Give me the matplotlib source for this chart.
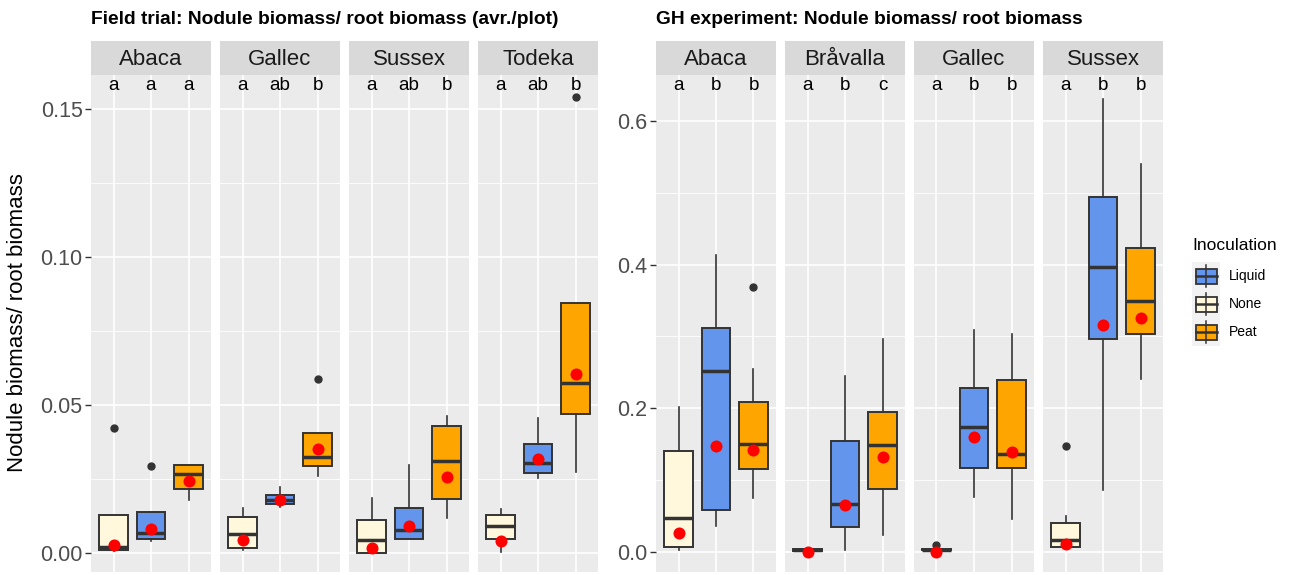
import matplotlib
matplotlib.use("Agg")
import matplotlib.pyplot as plt
from matplotlib.patches import Rectangle

plt.rcParams['font.family'] = ['Liberation Sans', 'DejaVu Sans']

# ---------------- data ----------------
treatments = ["None", "Liquid", "Peat"]
fill_cols = {"None": "#FFF8DC", "Liquid": "#6495ED", "Peat": "#FFA500"}

# Field trial (avr./plot), per facet: [None, Liquid, Peat]
field_facets = ["Abaca", "Gallec", "Sussex", "Todeka"]
field_letters = [["a", "a", "a"], ["a", "ab", "b"], ["a", "ab", "b"], ["a", "ab", "b"]]
field_q1 = [[0.0009, 0.0048, 0.0218], [0.0017, 0.0165, 0.0294], [0.0000, 0.0049, 0.0181], [0.0049, 0.0272, 0.0469]]
field_med = [[0.0019, 0.0068, 0.0267], [0.0066, 0.0179, 0.0325], [0.0044, 0.0079, 0.0310], [0.0090, 0.0305, 0.0574]]
field_q3 = [[0.0128, 0.0138, 0.0299], [0.0123, 0.0195, 0.0404], [0.0112, 0.0152, 0.0430], [0.0128, 0.0367, 0.0844]]
field_lo = [[0.0008, 0.0040, 0.0178], [0.0011, 0.0156, 0.0260], [0.0000, 0.0049, 0.0118], [0.0002, 0.0252, 0.0274]]
field_hi = [[0.0128, 0.0138, 0.0299], [0.0153, 0.0224, 0.0404], [0.0187, 0.0299, 0.0464], [0.0149, 0.0455, 0.0844]]
field_out = [[[0.0424], [0.0293], []], [[], [], [0.0588]], [[], [], []], [[], [], [0.154]]]
field_mean = [[0.0028, 0.0081, 0.0243], [0.0043, 0.0180, 0.0353], [0.0016, 0.0090, 0.0258], [0.0040, 0.0319, 0.0606]]

# GH experiment
gh_facets = ["Abaca", "Bråvalla", "Gallec", "Sussex"]
gh_letters = [["a", "b", "b"], ["a", "b", "c"], ["a", "b", "b"], ["a", "b", "b"]]
gh_q1 = [[0.0074, 0.0587, 0.1150], [0.0010, 0.0342, 0.0882], [0.0020, 0.1173, 0.1173], [0.0069, 0.2960, 0.3030]]
gh_med = [[0.0466, 0.2517, 0.1506], [0.0030, 0.0665, 0.1483], [0.0030, 0.1741, 0.1367], [0.0171, 0.3972, 0.3492]]
gh_q3 = [[0.1400, 0.3118, 0.2083], [0.0040, 0.1543, 0.1954], [0.0040, 0.2282, 0.2388], [0.0406, 0.4938, 0.4231]]
gh_lo = [[0.0028, 0.0360, 0.0744], [0.0000, 0.0028, 0.0231], [0.0000, 0.0771, 0.0462], [0.0069, 0.0859, 0.2406]]
gh_hi = [[0.2014, 0.4139, 0.2545], [0.0050, 0.2448, 0.2970], [0.0050, 0.3095, 0.3030], [0.0499, 0.6305, 0.5395]]
gh_out = [[[], [], [0.369]], [[], [], []], [[0.0102], [], []], [[0.1469], [], []]]
gh_mean = [[0.0259, 0.1478, 0.1418], [0.0000, 0.0656, 0.1326], [0.0000, 0.1598, 0.1395], [0.0111, 0.3164, 0.3256]]

field_ticks = [0.00, 0.05, 0.10, 0.15]
field_ticklabels = ["0.00", "0.05", "0.10", "0.15"]
gh_ticks = [0.0, 0.2, 0.4, 0.6]
gh_ticklabels = ["0.0", "0.2", "0.4", "0.6"]

W, H = 1292, 575
fig = plt.figure(figsize=(W / 100, H / 100), dpi=100)
fig.patch.set_facecolor("white")

panel_top, panel_bot = 75, 572
strip_top = 41
pw = 120


def draw_block(lefts, facets, letters, q1, med, q3, lo, hi, out, mean,
               ylim, ticks, ticklabels, minor, letter_y, title):
    axes = []
    for f in range(len(facets)):
        l = lefts[f]
        ax = fig.add_axes([l / W, 1 - panel_bot / H, pw / W, (panel_bot - panel_top) / H])
        ax.set_facecolor("#EBEBEB")
        for s in ax.spines.values():
            s.set_visible(False)
        ax.set_xlim(0.4, 3.6)
        ax.set_ylim(*ylim)
        for m in minor:
            ax.axhline(m, color="white", lw=0.6, zorder=0)
        for t in ticks:
            ax.axhline(t, color="white", lw=1.2, zorder=0)
        for x in [1, 2, 3]:
            ax.axvline(x, color="white", lw=1.2, zorder=0)

        stats = []
        for k in range(3):
            stats.append(dict(med=med[f][k], q1=q1[f][k], q3=q3[f][k],
                              whislo=lo[f][k], whishi=hi[f][k], fliers=out[f][k]))
        bp = ax.bxp(stats, positions=[1, 2, 3], widths=0.75, patch_artist=True,
                    showcaps=False, manage_ticks=False,
                    boxprops=dict(edgecolor="#333333", linewidth=1.4),
                    medianprops=dict(color="#333333", linewidth=2.5),
                    whiskerprops=dict(color="#333333", linewidth=1.2),
                    flierprops=dict(marker="o", markerfacecolor="#333333",
                                    markeredgecolor="#333333", markersize=5))
        for k, b in enumerate(bp["boxes"]):
            b.set_facecolor(fill_cols[treatments[k]])
        ax.scatter([1, 2, 3], mean[f], s=75, color="red", zorder=5, linewidths=0)
        for k in range(3):
            ax.text(k + 1, letter_y, letters[f][k], ha="center", va="center",
                    fontsize=13.5, color="black")

        ax.set_xticks([])
        ax.set_yticks(ticks)
        if f == 0:
            ax.set_yticklabels(ticklabels, fontsize=15.5, color="#4D4D4D")
            ax.tick_params(axis="y", length=4, width=1, color="#333333", pad=2)
        else:
            ax.tick_params(axis="y", length=0, labelleft=False)

        sax = fig.add_axes([l / W, 1 - panel_top / H, pw / W, (panel_top - strip_top) / H])
        sax.set_facecolor("#D9D9D9")
        sax.set_xticks([])
        sax.set_yticks([])
        for s in sax.spines.values():
            s.set_visible(False)
        sax.text(0.5, 0.45, facets[f], ha="center", va="center", fontsize=16,
                 color="#1A1A1A", transform=sax.transAxes)
        axes.append(ax)
    fig.text(lefts[0] / W, 1 - 20 / H, title, ha="left", va="center",
             fontsize=13.8, fontweight="bold", color="black")
    return axes


field_axes = draw_block([91, 220, 349, 478], field_facets, field_letters,
                        field_q1, field_med, field_q3, field_lo, field_hi, field_out, field_mean,
                        (-0.0064, 0.1615), field_ticks, field_ticklabels,
                        [0.025, 0.075, 0.125], 0.158,
                        "Field trial: Nodule biomass/ root biomass (avr./plot)")

gh_axes = draw_block([656, 785, 914, 1043], gh_facets, gh_letters,
                     gh_q1, gh_med, gh_q3, gh_lo, gh_hi, gh_out, gh_mean,
                     (-0.028, 0.664), gh_ticks, gh_ticklabels,
                     [0.1, 0.3, 0.5], 0.65,
                     "GH experiment: Nodule biomass/ root biomass")

fig.text(18 / W, 1 - 323 / H, "Nodule biomass/ root biomass", rotation=90,
         ha="center", va="center", fontsize=16, color="black")

# legend
lax = fig.add_axes([0, 0, 1, 1])
lax.set_xlim(0, W)
lax.set_ylim(H, 0)
lax.axis("off")
lax.text(1192, 245, "Inoculation", ha="left", va="center", fontsize=12.5, color="black")
for i, name in enumerate(["Liquid", "None", "Peat"]):
    cy = 276 + 28 * i
    lax.add_patch(Rectangle((1192, cy - 14), 28, 28, facecolor="#F2F2F2", edgecolor="none"))
    lax.plot([1206, 1206], [cy - 11, cy + 11], color="#333333", lw=1.1)
    lax.add_patch(Rectangle((1195.5, cy - 7.5), 21, 15, facecolor=fill_cols[name],
                            edgecolor="#333333", lw=1.3))
    lax.plot([1195.5, 1216.5], [cy, cy], color="#333333", lw=1.8)
    lax.text(1229, cy, name, ha="left", va="center", fontsize=10, color="black")

fig.savefig("out.png", dpi=100)
